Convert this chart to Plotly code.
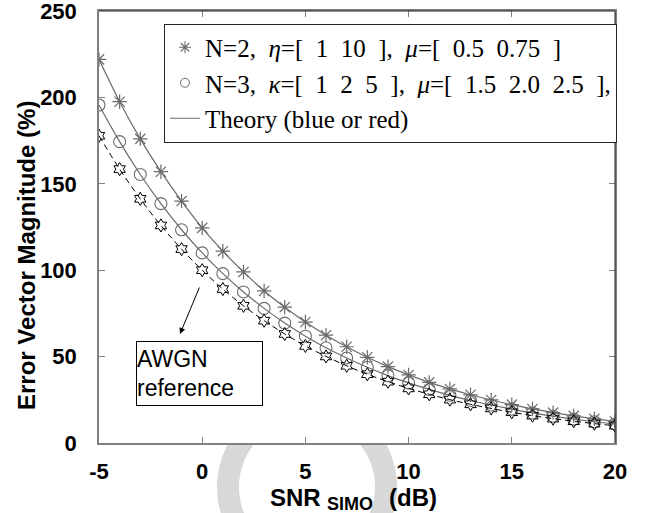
import math
import plotly.graph_objects as go

# SNR grid (dB)
snr_db = [-5, -4, -3, -2, -1, 0, 1, 2, 3, 4, 5, 6, 7, 8, 9, 10,
          11, 12, 13, 14, 15, 16, 17, 18, 19, 20]

# EVM (%) for the N=2 configuration (asterisks + theory)
evm_n2 = [222.0, 197.5, 176.0, 157.0, 140.0, 124.5, 111.0, 99.0, 88.0, 78.6,
          70.0, 62.4, 55.7, 49.6, 44.2, 39.4, 35.1, 31.3, 27.9, 24.9,
          22.2, 19.7, 17.6, 15.7, 14.0, 12.5]

# EVM (%) for the N=3 configuration (circles + theory)
evm_n3 = [195.6, 174.4, 155.4, 138.5, 123.4, 110.0, 98.0, 87.4, 77.9, 69.4,
          61.8, 55.1, 49.2, 43.8, 39.0, 34.8, 31.0, 27.6, 24.6, 22.0,
          19.6, 17.4, 15.5, 13.8, 12.3, 11.0]

# EVM (%) for the AWGN reference
evm_awgn = [177.8, 158.5, 141.3, 125.9, 112.2, 100.0, 89.1, 79.4, 70.8, 63.1,
            56.2, 50.1, 44.7, 39.8, 35.5, 31.6, 28.2, 25.1, 22.4, 20.0,
            17.8, 15.8, 14.1, 12.6, 11.2, 10.0]

x_ticks = [-5, 0, 5, 10, 15, 20]
x_tick_text = ["-5", "0", "5", "10", "15", "20"]
y_ticks = [0, 50, 100, 150, 200, 250]

SP = "\u2002"  # wide space, as in the math-mode legend strings
legend_n2 = f"N=2,{SP}<i>η</i>=[{SP}1{SP}10{SP}],{SP}<i>μ</i>=[{SP}0.5{SP}0.75{SP}]"
legend_n3 = (f"N=3,{SP}<i>κ</i>=[{SP}1{SP}2{SP}5{SP}],{SP}<i>μ</i>=[{SP}1.5{SP}"
             f"2.0{SP}2.5{SP}],")
legend_th = "Theory (blue or red)"

W, H = 646, 513
ML, MR, MT, MB = 99, 31, 11, 70
PW, PH = W - ML - MR, H - MT - MB

GRAY = "#6b6b6b"
SANS = "Liberation Sans, Arial, sans-serif"
SERIF = "Liberation Serif, Times New Roman, serif"


def px(xp):
    return (xp - ML) / PW


def py(yp):
    return (H - MB - yp) / PH


fig = go.Figure()

# measured / theoretical curves
fig.add_trace(go.Scatter(
    x=snr_db, y=evm_n2, mode="lines+markers", showlegend=False,
    line=dict(color=GRAY, width=1.2, shape="spline"),
    marker=dict(symbol="asterisk-open", size=12, color=GRAY,
                line=dict(color=GRAY, width=1.2)),
))
fig.add_trace(go.Scatter(
    x=snr_db, y=evm_n3, mode="lines+markers", showlegend=False,
    line=dict(color=GRAY, width=1.2, shape="spline"),
    marker=dict(symbol="circle-open", size=12, color=GRAY,
                line=dict(color=GRAY, width=1.1)),
))
fig.add_trace(go.Scatter(
    x=snr_db, y=evm_awgn, mode="lines+markers", showlegend=False,
    line=dict(color="black", width=1, dash="6px,4px", shape="spline"),
    marker=dict(symbol="hexagram-open", size=10, color="black",
                line=dict(color="black", width=1)),
))

# legend entries
fig.add_trace(go.Scatter(
    x=[None], y=[None], mode="markers", name=legend_n2,
    marker=dict(symbol="asterisk-open", size=10, color=GRAY,
                line=dict(color=GRAY, width=1.1)),
))
fig.add_trace(go.Scatter(
    x=[None], y=[None], mode="markers", name=legend_n3,
    marker=dict(symbol="circle-open", size=9, color=GRAY,
                line=dict(color=GRAY, width=1)),
))
fig.add_trace(go.Scatter(
    x=[None], y=[None], mode="lines", name=legend_th,
    line=dict(color=GRAY, width=1.2),
))

# light ring behind the x-axis labels (portion below the plot area)
cx, cy, r_out, r_in = 307, 487, 90, 68
y_cut = H - MB
a_out = math.asin((y_cut - cy) / r_out)
a_in = math.asin((y_cut - cy) / r_in)
pts = []
n = 90
for i in range(n + 1):
    t = a_out + (math.pi - 2 * a_out) * i / n
    pts.append((cx + r_out * math.cos(t), cy + r_out * math.sin(t)))
for i in range(n + 1):
    t = (math.pi - a_in) - (math.pi - 2 * a_in) * i / n
    pts.append((cx + r_in * math.cos(t), cy + r_in * math.sin(t)))
ring_path = "M " + " L ".join(f"{px(a):.5f},{py(b):.5f}" for a, b in pts) + " Z"

shapes = [
    dict(type="path", path=ring_path, xref="paper", yref="paper",
         fillcolor="#d8d8d8", line=dict(width=0), layer="below"),
    # darker top and right frame edges
    dict(type="line", xref="paper", yref="paper", x0=0, x1=1, y0=1, y1=1,
         line=dict(color="#262626", width=1), layer="above"),
    dict(type="line", xref="paper", yref="paper", x0=1, x1=1, y0=0, y1=1,
         line=dict(color="#262626", width=1), layer="above"),
]

annotations = [
    # y-axis title
    dict(text="<b>Error Vector Magnitude (%)</b>", xref="paper", yref="paper",
         x=px(26), y=py(256), xanchor="center", yanchor="middle",
         textangle=-90, showarrow=False,
         font=dict(family=SANS, size=24, color="black")),
    # x-axis title pieces
    dict(text="<b>SNR</b>", xref="paper", yref="paper", x=px(268), y=py(497),
         xanchor="left", yanchor="middle", showarrow=False,
         font=dict(family=SANS, size=24, color="black")),
    dict(text="<b>SIMO</b>", xref="paper", yref="paper", x=px(325), y=py(504),
         xanchor="left", yanchor="middle", showarrow=False,
         font=dict(family=SANS, size=18, color="black")),
    dict(text="<b>(dB)</b>", xref="paper", yref="paper", x=px(387), y=py(497),
         xanchor="left", yanchor="middle", showarrow=False,
         font=dict(family=SANS, size=24, color="black")),
    # AWGN reference callout
    dict(text="AWGN<br>reference", xref="paper", yref="paper",
         x=px(136), y=py(341), xanchor="left", yanchor="top",
         width=125, height=63, align="left", valign="middle",
         bordercolor="black", borderwidth=1, borderpad=0, bgcolor="white",
         showarrow=False, font=dict(family=SANS, size=23, color="black")),
    dict(text="", xref="paper", yref="paper", x=px(180), y=py(334),
         ax=20, ay=-48, axref="pixel", ayref="pixel", showarrow=True,
         arrowhead=2, arrowsize=1.2, arrowwidth=1, arrowcolor="black"),
]

axis_common = dict(
    showgrid=False, zeroline=False, showline=True, linecolor="#808080",
    linewidth=1.5, mirror="ticks", ticks="inside", ticklen=6,
    tickcolor="#808080", tickwidth=1, automargin=False,
    ticklabeloverflow="allow",
    tickfont=dict(family=SANS, size=22, color="black", weight="bold"),
)

fig.update_layout(
    width=W, height=H,
    margin=dict(l=ML, r=MR, t=MT, b=MB, pad=0, autoexpand=False),
    paper_bgcolor="white", plot_bgcolor="white",
    xaxis=dict(range=[-5, 20], tickvals=x_ticks, ticktext=x_tick_text,
               ticklabelstandoff=8, **axis_common),
    yaxis=dict(range=[0, 250], tickvals=y_ticks, ticklabelstandoff=16,
               **axis_common),
    legend=dict(x=px(164), y=py(23.5), xanchor="left", yanchor="top",
                bgcolor="white", bordercolor="#262626", borderwidth=1,
                font=dict(family=SERIF, size=25, color="black"),
                itemwidth=30, tracegroupgap=0),
    shapes=shapes,
    annotations=annotations,
)

fig.write_html("out.html")
